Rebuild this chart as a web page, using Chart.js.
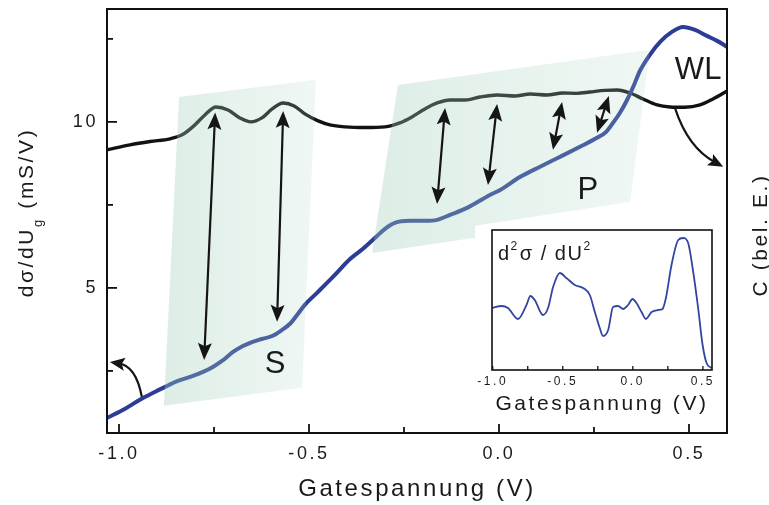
<!DOCTYPE html>
<html>
<head>
<meta charset="utf-8">
<script src="https://cdn.jsdelivr.net/npm/chart.js@4.4.1/dist/chart.umd.min.js"></script>
<style>
  html, body { margin: 0; padding: 0; background: #fff; }
  #wrap { position: relative; width: 769px; height: 505px; }
  #main { position: absolute; left: 0; top: 0; }
  #inset { position: absolute; left: 462px; top: 222px; }
</style>
</head>
<body>
<div id="wrap">
  <canvas id="main" width="769" height="505"></canvas>
  <canvas id="inset" width="270" height="200"></canvas>
</div>
<script>
// dσ/dUg curve (blue, left axis, mS/V)
const sigmaGate = [-1.032, -0.984, -0.945, -0.905, -0.879, -0.845, -0.813, -0.779, -0.753, -0.729, -0.700,
  -0.674, -0.650, -0.624, -0.597, -0.574, -0.550, -0.529, -0.511, -0.479, -0.437, -0.392, -0.358, -0.326,
  -0.300, -0.274, -0.234, -0.195, -0.163, -0.129, -0.084, -0.024, 0.003, 0.055, 0.108, 0.161, 0.213, 0.258,
  0.282, 0.300, 0.318, 0.337, 0.353, 0.371, 0.397, 0.424, 0.455, 0.484, 0.516, 0.547, 0.574, 0.600];
const sigmaValues = [1.08, 1.36, 1.63, 1.87, 2.02, 2.20, 2.32, 2.47, 2.62, 2.80, 3.07,
  3.25, 3.37, 3.46, 3.55, 3.71, 3.92, 4.22, 4.49, 4.85, 5.33, 5.87, 6.18, 6.51,
  6.78, 6.96, 7.02, 7.02, 7.05, 7.20, 7.41, 7.80, 7.95, 8.34, 8.65, 8.95, 9.25, 9.52,
  9.70, 9.97, 10.27, 10.66, 11.05, 11.54, 12.02, 12.41, 12.71, 12.86, 12.77, 12.59, 12.44, 12.26];

// capacitance C (black, right axis, arb. units)
const capGate = [-1.032, -0.971, -0.918, -0.866, -0.834, -0.803, -0.774, -0.745, -0.713, -0.682, -0.653,
  -0.624, -0.597, -0.568, -0.539, -0.511, -0.476, -0.445, -0.405, -0.353, -0.300, -0.261, -0.229, -0.195,
  -0.163, -0.129, -0.089, -0.050, -0.005, 0.042, 0.082, 0.126, 0.168, 0.205, 0.239, 0.279, 0.311, 0.345,
  0.379, 0.416, 0.450, 0.489, 0.529, 0.563, 0.600];
const capValues = [9.16, 9.31, 9.41, 9.49, 9.61, 9.88, 10.21, 10.45, 10.36, 10.12, 10.00,
  10.12, 10.39, 10.57, 10.48, 10.24, 10.03, 9.91, 9.85, 9.83, 9.85, 9.97, 10.15, 10.39,
  10.57, 10.66, 10.66, 10.75, 10.81, 10.78, 10.84, 10.81, 10.87, 10.86, 10.90, 10.95, 10.96, 10.87,
  10.69, 10.51, 10.45, 10.44, 10.51, 10.69, 10.93];

// inset: d²σ/dU² (arb. units)
const insetGate = [-1.005, -0.938, -0.891, -0.819, -0.759, -0.731, -0.700, -0.641, -0.605, -0.569, -0.521,
  -0.474, -0.414, -0.355, -0.307, -0.271, -0.236, -0.212, -0.176, -0.141, -0.105, -0.069, -0.034, -0.002,
  0.026, 0.062, 0.093, 0.134, 0.181, 0.212, 0.236, 0.276, 0.324, 0.359, 0.395, 0.431, 0.466, 0.498, 0.526, 0.562];
const insetValues = [6.2, 6.4, 6.2, 5.1, 6.5, 7.4, 7.0, 5.5, 6.2, 8.3, 9.7,
  9.2, 8.5, 8.2, 7.5, 5.8, 4.2, 3.4, 4.0, 6.3, 6.4, 6.1, 6.5, 7.1,
  6.7, 5.8, 5.1, 5.8, 6.0, 6.1, 7.2, 10.5, 13.0, 13.2, 12.7, 9.8, 6.2, 2.5, 0.7, 0.2];

// ticks
const xTicks = [-1.0, -0.75, -0.5, -0.25, 0.0, 0.25, 0.5];
const xTickLabels = ['-1.0', '', '-0.5', '', '0.0', '', '0.5'];
const yTicks = [2.5, 5, 7.5, 10, 12.5];
const yTickLabels = ['', '5', '', '10', ''];

// shaded regions S and P, arrows, labels (data coordinates)
const sRegion = [[-0.842, 10.75], [-0.482, 11.27], [-0.518, 1.99], [-0.882, 1.45]];
const pRegion = [[-0.266, 11.11], [0.397, 12.17], [0.345, 7.59], [-0.063, 6.87], [-0.063, 6.51], [-0.334, 6.05]];
const doubleArrows = [
  [-0.747, 10.28, -0.776, 2.83],
  [-0.568, 10.33, -0.584, 3.98],
  [-0.142, 10.42, -0.163, 7.53],
  [-0.005, 10.54, -0.029, 8.10],
  [0.166, 10.60, 0.142, 9.16],
  [0.289, 10.78, 0.258, 9.67]
];
const curvedArrows = [
  [[-0.940, 1.72], [-0.955, 2.65], [-1.024, 2.77]],
  [[0.463, 10.42], [0.497, 9.22], [0.590, 8.65]]
];
const regionLabels = [['S', -0.589, 2.68], ['P', 0.234, 7.92], ['WL', 0.524, 11.54]];

const FONT = '"Liberation Sans", Arial, sans-serif';
Chart.defaults.font.family = FONT;
Chart.defaults.color = '#1a1a1a';

function arrowHead(ctx, x, y, ang, len, wid) {
  ctx.save();
  ctx.translate(x, y);
  ctx.rotate(ang);
  ctx.beginPath();
  ctx.moveTo(0, 0);
  ctx.lineTo(-len, wid / 2);
  ctx.lineTo(-len * 0.8, 0);
  ctx.lineTo(-len, -wid / 2);
  ctx.closePath();
  ctx.fill();
  ctx.restore();
}

// no label overflow padding: the plot box is set by the axis sizes alone
function noPad(s) {
  s.paddingTop = 0; s.paddingBottom = 0; s.paddingLeft = 0; s.paddingRight = 0;
}

const decor = {
  id: 'decor',
  beforeDraw(chart) {
    chart.ctx.letterSpacing = '2.6px';
  },
  afterDatasetsDraw(chart) {
    const { ctx, chartArea: a, scales: { x, y } } = chart;
    const px = p => [x.getPixelForValue(p[0]), y.getPixelForValue(p[1])];
    ctx.save();

    // shaded areas on top of the curves
    [sRegion, pRegion].forEach(poly => {
      const pts = poly.map(px);
      const xs = pts.map(p => p[0]);
      const g = ctx.createLinearGradient(Math.min(...xs), 0, Math.max(...xs), 0);
      g.addColorStop(0, 'rgba(160,206,186,0.36)');
      g.addColorStop(1, 'rgba(178,216,198,0.2)');
      ctx.fillStyle = g;
      ctx.beginPath();
      pts.forEach((p, i) => i ? ctx.lineTo(p[0], p[1]) : ctx.moveTo(p[0], p[1]));
      ctx.closePath();
      ctx.fill();
    });

    // double arrows
    ctx.strokeStyle = '#151515';
    ctx.fillStyle = '#151515';
    ctx.lineWidth = 2.2;
    doubleArrows.forEach(d => {
      const [x1, y1] = px([d[0], d[1]]);
      const [x2, y2] = px([d[2], d[3]]);
      const ang = Math.atan2(y2 - y1, x2 - x1);
      const c = Math.cos(ang), s = Math.sin(ang);
      ctx.beginPath();
      ctx.moveTo(x1 + c * 10, y1 + s * 10);
      ctx.lineTo(x2 - c * 10, y2 - s * 10);
      ctx.stroke();
      arrowHead(ctx, x2, y2, ang, 17, 14);
      arrowHead(ctx, x1, y1, ang + Math.PI, 17, 14);
    });

    // curved arrows
    curvedArrows.forEach(c => {
      const [p0, p1, p2] = c.map(px);
      const ang = Math.atan2(p2[1] - p1[1], p2[0] - p1[0]);
      const ex = p2[0] - Math.cos(ang) * 9, ey = p2[1] - Math.sin(ang) * 9;
      ctx.beginPath();
      ctx.moveTo(p0[0], p0[1]);
      ctx.quadraticCurveTo(p1[0], p1[1], ex, ey);
      ctx.stroke();
      arrowHead(ctx, p2[0], p2[1], ang, 15, 13);
    });

    // S, P, WL
    ctx.letterSpacing = '0px';
    ctx.font = '31px ' + FONT;
    ctx.fillStyle = '#1a1a1a';
    ctx.textAlign = 'center';
    ctx.textBaseline = 'middle';
    regionLabels.forEach(l => {
      const [lx, ly] = px([l[1], l[2]]);
      ctx.fillText(l[0], lx, ly);
    });
    ctx.letterSpacing = '2.6px';

    // frame and inward ticks
    ctx.strokeStyle = '#111';
    ctx.lineWidth = 1.8;
    xTicks.forEach((v, i) => {
      const X = x.getPixelForValue(v);
      const L = xTickLabels[i] ? 9 : 6;
      ctx.beginPath(); ctx.moveTo(X, a.bottom); ctx.lineTo(X, a.bottom - L); ctx.stroke();
    });
    yTicks.forEach((v, i) => {
      const Y = y.getPixelForValue(v);
      const L = yTickLabels[i] ? 10 : 6;
      ctx.beginPath(); ctx.moveTo(a.left, Y); ctx.lineTo(a.left + L, Y); ctx.stroke();
    });
    ctx.lineWidth = 2;
    ctx.strokeRect(a.left, a.top, a.right - a.left, a.bottom - a.top);

    // y titles (left has a subscript, right reads bottom to top)
    ctx.fillStyle = '#1a1a1a';
    ctx.textBaseline = 'alphabetic';
    ctx.save();
    ctx.translate(33, 212.5);
    ctx.rotate(-Math.PI / 2);
    ctx.textAlign = 'left';
    const parts = [['dσ/dU', '21px ' + FONT, 0], ['g', '13px ' + FONT, 9], [' (mS/V)', '21px ' + FONT, 0]];
    let total = 0;
    parts.forEach(p => { ctx.font = p[1]; total += ctx.measureText(p[0]).width; });
    let lx = -total / 2;
    parts.forEach(p => { ctx.font = p[1]; ctx.fillText(p[0], lx, p[2]); lx += ctx.measureText(p[0]).width; });
    ctx.restore();

    ctx.save();
    ctx.translate(767, 235);
    ctx.rotate(-Math.PI / 2);
    ctx.textAlign = 'center';
    ctx.font = '21px ' + FONT;
    ctx.fillText('C (bel. E.)', 0, 0);
    ctx.restore();

    ctx.restore();
  },
  afterDraw(chart) {
    chart.ctx.letterSpacing = '0px';
  }
};

new Chart(document.getElementById('main'), {
  type: 'line',
  data: {
    datasets: [
      {
        data: sigmaGate.map((v, i) => ({ x: v, y: sigmaValues[i] })),
        yAxisID: 'y',
        borderColor: '#2c3d95',
        borderWidth: 4,
        pointRadius: 0,
        cubicInterpolationMode: 'monotone'
      },
      {
        data: capGate.map((v, i) => ({ x: v, y: capValues[i] })),
        yAxisID: 'y2',
        borderColor: '#121212',
        borderWidth: 3.4,
        pointRadius: 0,
        cubicInterpolationMode: 'monotone'
      }
    ]
  },
  options: {
    responsive: false,
    animation: false,
    layout: { padding: { top: 9, left: 0, right: 0, bottom: 0 } },
    plugins: { legend: { display: false }, tooltip: { enabled: false } },
    scales: {
      x: {
        type: 'linear',
        min: -1.0316,
        max: 0.6,
        afterBuildTicks: s => { s.ticks = xTicks.map(v => ({ value: v })); },
        afterFit: s => { s.height = 72; noPad(s); },
        ticks: {
          autoSkip: false,
          maxRotation: 0,
          padding: 10,
          font: { size: 18 },
          callback: (v, i) => xTickLabels[i]
        },
        grid: { display: false, drawTicks: false },
        border: { display: false },
        title: {
          display: true,
          text: 'Gatespannung (V)',
          font: { size: 24, lineHeight: 1.2 },
          padding: { top: 0, bottom: 1.6 }
        }
      },
      y: {
        min: 0.63,
        max: 13.4,
        afterBuildTicks: s => { s.ticks = yTicks.map(v => ({ value: v })); },
        afterFit: s => { s.width = 107; noPad(s); },
        ticks: {
          autoSkip: false,
          padding: 9,
          font: { size: 18 },
          callback: (v, i) => yTickLabels[i]
        },
        grid: { display: false, drawTicks: false },
        border: { display: false }
      },
      y2: {
        position: 'right',
        min: 0.63,
        max: 13.4,
        afterFit: s => { s.width = 42; noPad(s); },
        ticks: { display: false },
        grid: { display: false, drawTicks: false },
        border: { display: false }
      }
    }
  },
  plugins: [decor]
});

const insetDecor = {
  id: 'insetDecor',
  beforeDraw(chart) {
    const { ctx, chartArea: a } = chart;
    ctx.save();
    ctx.fillStyle = '#fff';
    ctx.fillRect(a.left, a.top, a.right - a.left, a.bottom - a.top);
    ctx.restore();
    ctx.letterSpacing = '2.6px';
  },
  afterDraw(chart) {
    const { ctx, chartArea: a, scales: { x } } = chart;
    ctx.save();
    ctx.strokeStyle = '#111';
    ctx.lineWidth = 1.3;
    xTicks.forEach(v => {
      const X = x.getPixelForValue(v);
      ctx.beginPath(); ctx.moveTo(X, a.bottom); ctx.lineTo(X, a.bottom - 4); ctx.stroke();
    });
    ctx.lineWidth = 1.6;
    ctx.strokeRect(a.left, a.top, a.right - a.left, a.bottom - a.top);

    ctx.letterSpacing = '1.5px';
    ctx.fillStyle = '#1a1a1a';
    ctx.textAlign = 'left';
    ctx.textBaseline = 'alphabetic';
    const big = '20px ' + FONT, sup = '12px ' + FONT;
    let tx = a.left + 6;
    const ty = a.top + 30;
    [['d', big, 0], ['2', sup, -10], ['σ / dU', big, 0], ['2', sup, -10]].forEach(p => {
      ctx.font = p[1];
      ctx.fillText(p[0], tx, ty + p[2]);
      tx += ctx.measureText(p[0]).width + (p[1] === sup ? 1 : 0);
    });
    ctx.restore();
    ctx.letterSpacing = '0px';
  }
};

new Chart(document.getElementById('inset'), {
  type: 'line',
  data: {
    datasets: [{
      data: insetGate.map((v, i) => ({ x: v, y: insetValues[i] })),
      borderColor: '#3245a0',
      borderWidth: 1.8,
      pointRadius: 0,
      cubicInterpolationMode: 'monotone'
    }]
  },
  options: {
    responsive: false,
    animation: false,
    layout: { padding: { left: 30, top: 8, right: 20, bottom: 0 } },
    plugins: { legend: { display: false }, tooltip: { enabled: false } },
    scales: {
      x: {
        type: 'linear',
        min: -1.005,
        max: 0.565,
        afterBuildTicks: s => { s.ticks = xTicks.map(v => ({ value: v })); },
        afterFit: s => { s.height = 52; noPad(s); },
        ticks: {
          autoSkip: false,
          maxRotation: 0,
          padding: 4,
          font: { size: 12 },
          callback: (v, i) => xTickLabels[i]
        },
        grid: { display: false, drawTicks: false },
        border: { display: false },
        title: {
          display: true,
          text: 'Gatespannung (V)',
          font: { size: 21, lineHeight: 1.2 },
          padding: { top: 0, bottom: 5 }
        }
      },
      y: { display: false, min: 0, max: 14 }
    }
  },
  plugins: [insetDecor]
});
</script>
</body>
</html>
